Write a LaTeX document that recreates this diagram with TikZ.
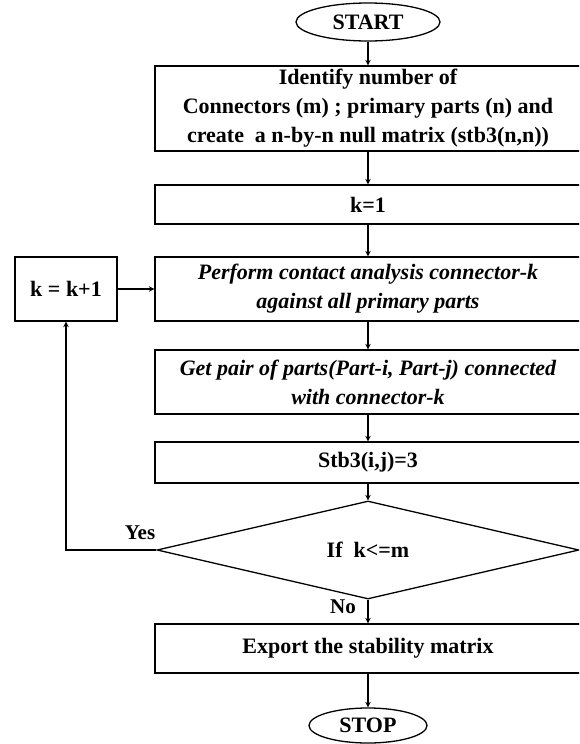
\documentclass[tikz,border=0pt]{standalone}
\usepackage{fontspec}
\setmainfont{Liberation Serif}
\usetikzlibrary{shapes.geometric,arrows.meta}
\begin{document}
\begin{tikzpicture}[x=1pt,y=-1pt,
  every node/.style={font=\fontsize{22}{29}\selectfont\bfseries, inner sep=0pt, align=center},
  procbox/.style={draw, line width=1.3pt, rectangle, minimum width=426pt},
  term/.style={draw, line width=1.3pt, ellipse},
  decide/.style={draw, line width=1.3pt, diamond, minimum width=422pt, minimum height=56pt},
  arr/.style={draw, line width=1.3pt, -{Stealth[length=5.5pt,width=5.5pt]}},
  lbl/.style={font=\fontsize{21}{24}\selectfont\bfseries}]
\useasboundingbox (0,0) rectangle (579,744);
\clip (0,0) rectangle (579,744);
\node[term, minimum width=144pt, minimum height=38pt] (start) at (368,22) {START};
\node[procbox, minimum height=85pt] (b1) at (368,108.5) {Identify number of\\Connectors (m) ; primary parts (n) and\\create~ a n-by-n null matrix (stb3(n,n))};
\node[procbox, minimum height=39pt] (b2) at (368,204.5) {k=1};
\node[procbox, minimum height=64pt] (b3) at (368,289) {\itshape Perform contact analysis connector-k\\\itshape against all primary parts};
\node[draw, line width=1.3pt, minimum width=102pt, minimum height=64pt] (kb) at (66,289) {k = k+1};
\node[procbox, minimum height=64pt] (b4) at (368,382) {\itshape Get pair of parts(Part-i, Part-j) connected\\\itshape with connector-k};
\node[procbox, minimum height=41pt] (b5) at (368,462.5) {Stb3(i,j)=3};
\node[decide] (dia) at (368,550) {If~ k<=m};
\node[procbox, minimum height=49pt] (b6) at (368,648.5) {Export the stability matrix};
\node[term, minimum width=118pt, minimum height=35pt] (stop) at (368,725.5) {STOP};
\node[lbl] (yes) at (140,533) {Yes};
\node[lbl] (no) at (343,607) {No};
\draw[arr] (start) -- (b1);
\draw[arr] (b1) -- (b2);
\draw[arr] (b2) -- (b3);
\draw[arr] (kb) -- (b3);
\draw[arr] (b3) -- (b4);
\draw[arr] (b4) -- (b5);
\draw[arr] (b5) -- (dia);
\draw[arr] (dia.west) -| (kb.south);
\draw[arr] (dia.south) -- (b6);
\draw[arr] (b6) -- (stop);
\end{tikzpicture}
\end{document}
